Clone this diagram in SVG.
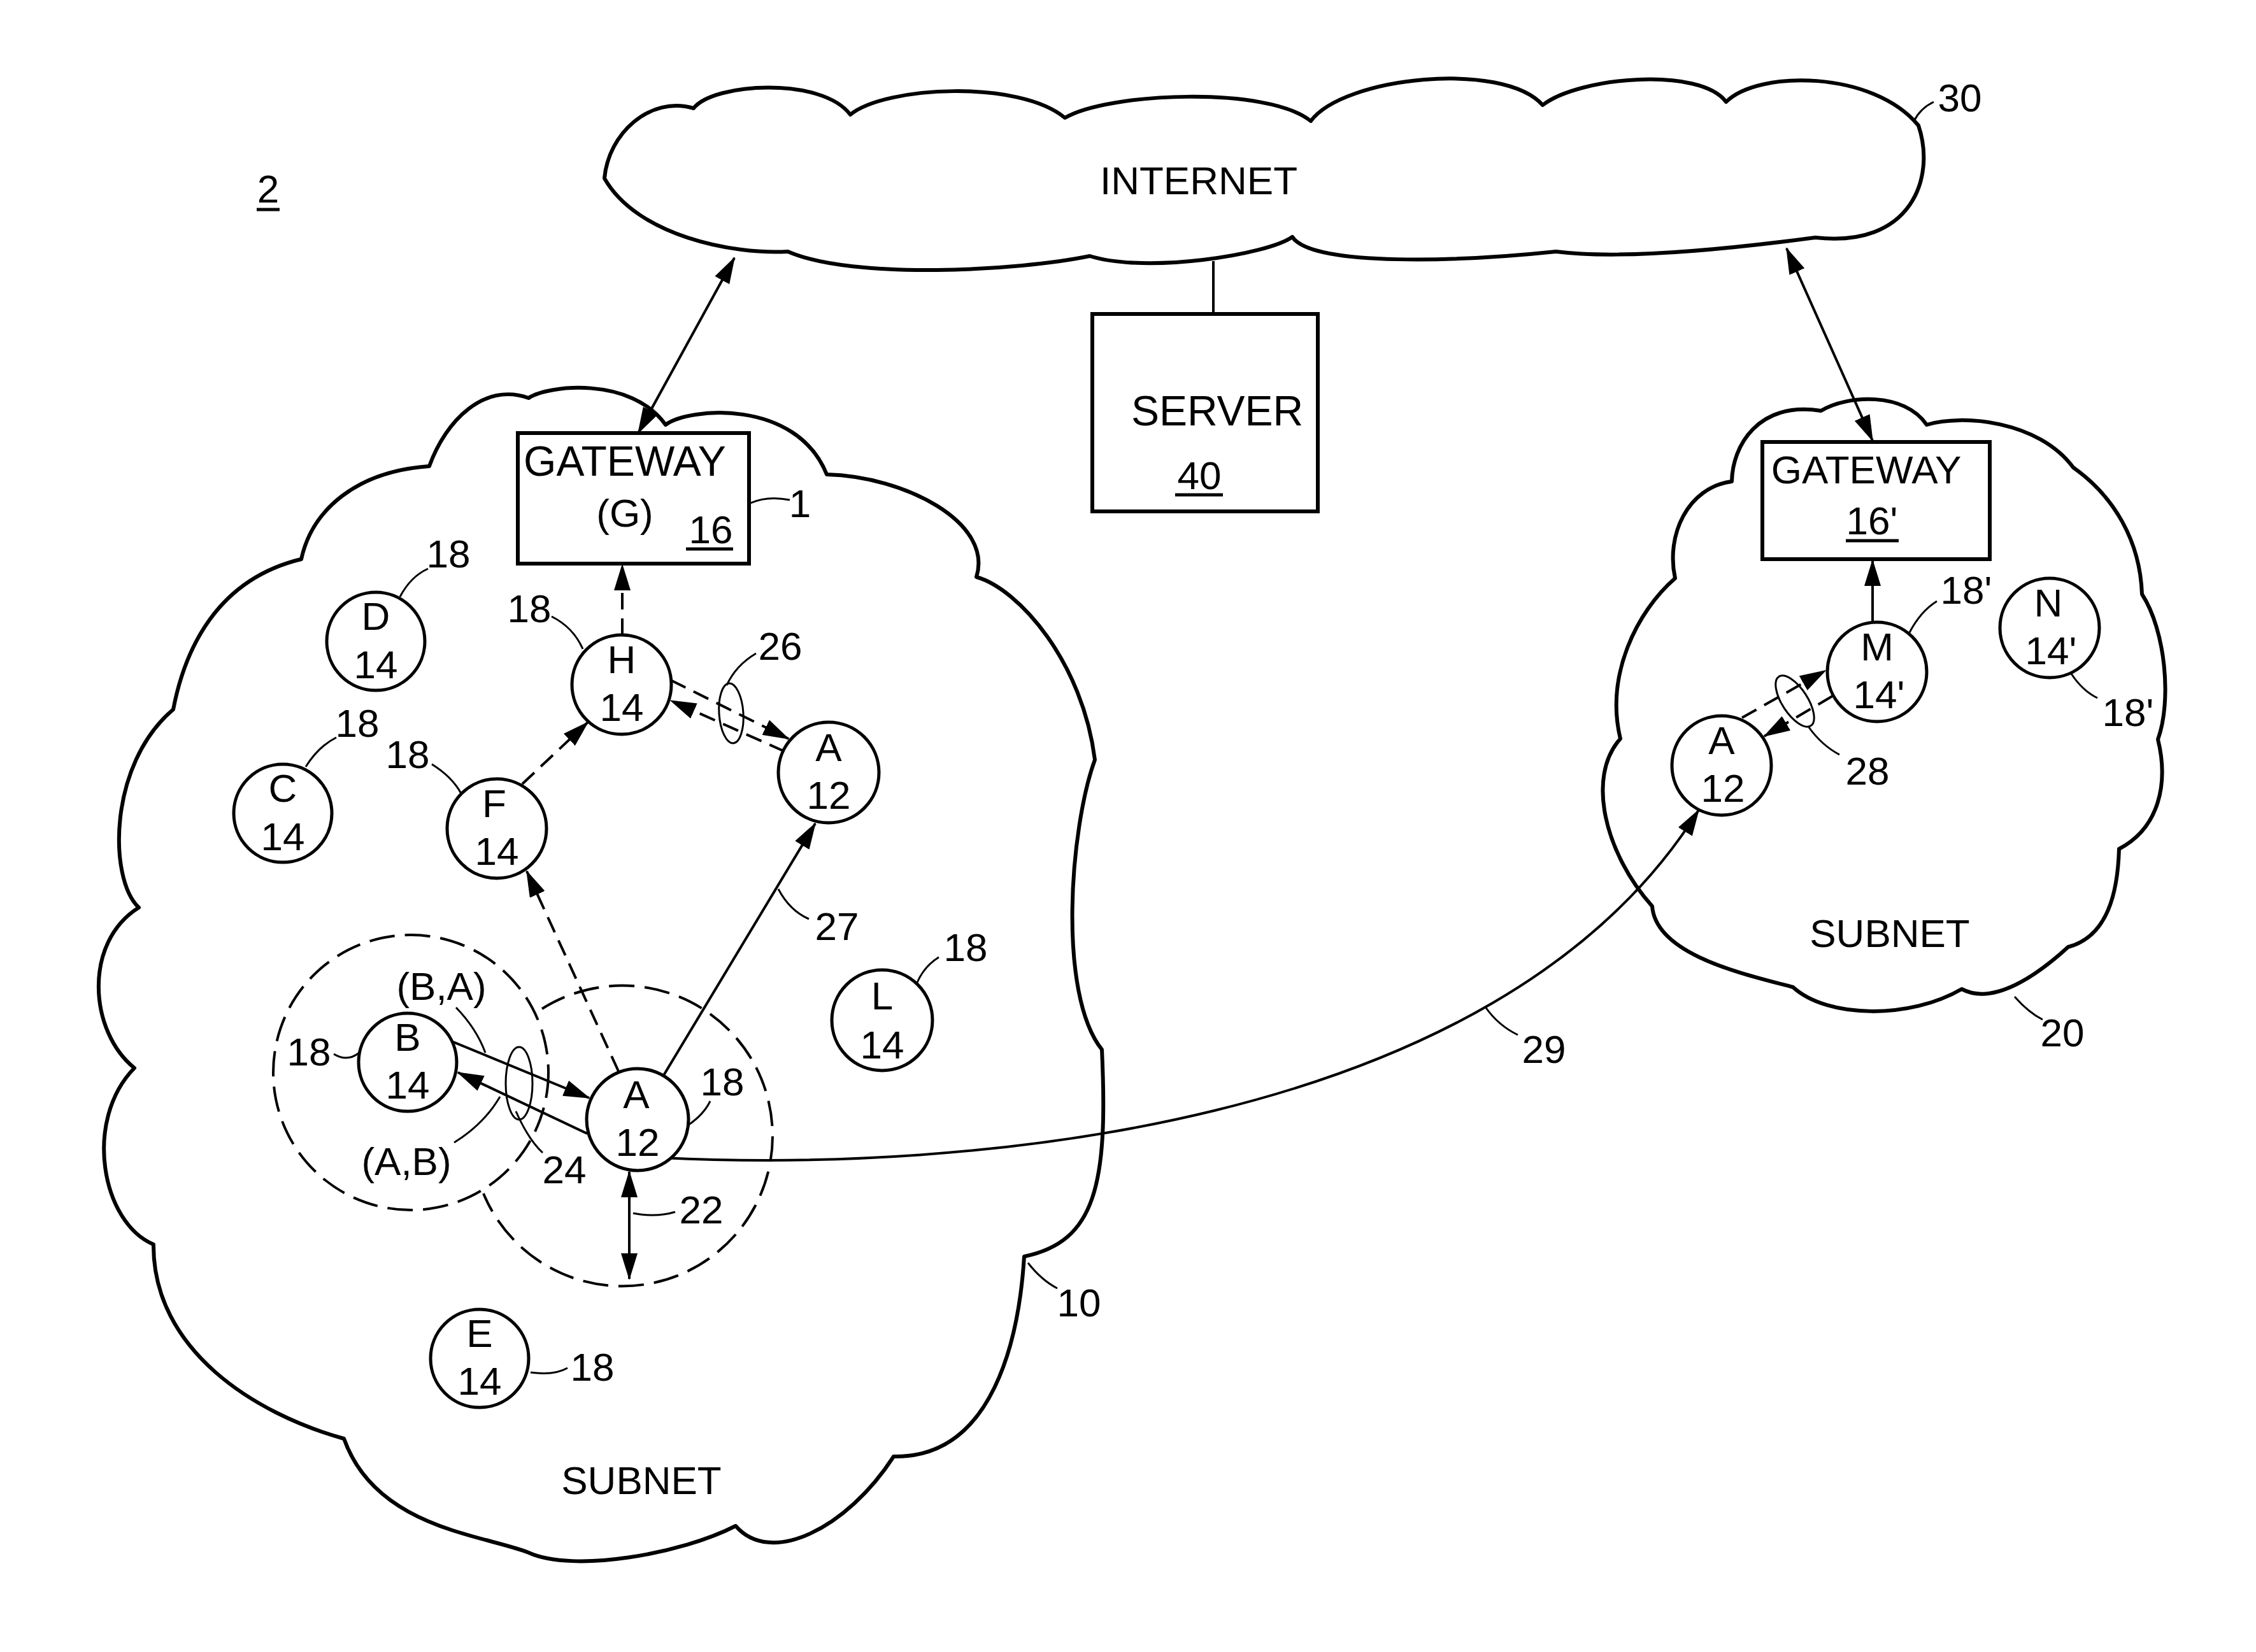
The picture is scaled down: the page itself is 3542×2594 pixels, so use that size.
<svg xmlns="http://www.w3.org/2000/svg" width="3542" height="2594" viewBox="0 0 3542 2594">
<style>
text{font-family:"Liberation Sans",Arial,sans-serif;font-size:62px;fill:#000;text-anchor:middle}
.big{font-size:66px}
.cloud{fill:#fff;stroke:#000;stroke-width:6;stroke-linejoin:round}
.box{fill:#fff;stroke:#000;stroke-width:6}
.node{fill:#fff;stroke:#000;stroke-width:5}
.ln{fill:none;stroke:#000;stroke-width:4}
.dash{fill:none;stroke:#000;stroke-width:4;stroke-dasharray:26 14}
.ring{fill:none;stroke:#000;stroke-width:4;stroke-dasharray:40 16}
.lead{fill:none;stroke:#000;stroke-width:3}
.ul{stroke:#000;stroke-width:5}
.ell{fill:none;stroke:#000;stroke-width:3}
</style>
<defs>
<marker id="ah" viewBox="0 0 42 26" refX="40" refY="13" markerWidth="42" markerHeight="26" markerUnits="userSpaceOnUse" orient="auto-start-reverse"><path d="M0,0 L42,13 L0,26 z" fill="#000"/></marker>
</defs>
<rect width="3542" height="2594" fill="#fff"/>

<g id="internet">
<path class="cloud" d="M 949,280 C 955,210 1020,150 1089,170 C 1120,130 1290,120 1335,180 C 1390,135 1600,125 1672,185 C 1740,145 1990,135 2058,190 C 2110,120 2360,95 2422,165 C 2480,120 2670,105 2710,160 C 2760,110 2940,110 3012,197 C 3040,280 3000,390 2850,373 C 2760,385 2560,410 2443,395 C 2300,410 2060,420 2029,372 C 1990,400 1800,430 1711,402 C 1600,425 1340,440 1237,395 C 1150,400 1000,370 949,280 Z"/>
<text x="1882" y="305">INTERNET</text>
<path class="lead" d="M 3005,190 Q 3015,170 3036,160"/>
<text x="3077" y="175">30</text>
</g>

<g id="subnet10">
<path class="cloud" d="M 830,625 C 860,605 990,590 1045,667 C 1080,640 1250,625 1298,745 C 1420,748 1560,820 1533,906 C 1600,925 1700,1040 1719,1193 C 1680,1300 1660,1560 1730,1648 C 1740,1860 1720,1950 1608,1973 C 1600,2100 1560,2290 1403,2287 C 1330,2400 1210,2460 1155,2396 C 1070,2440 900,2470 830,2438 C 760,2410 590,2400 540,2259 C 400,2220 240,2120 241,1954 C 160,1920 130,1760 211,1677 C 140,1620 130,1480 218,1425 C 170,1380 170,1200 272,1114 C 290,1020 340,910 473,878 C 490,800 560,740 674,732 C 700,660 760,600 830,625 Z"/>
<text x="1007" y="2346">SUBNET</text>
<path class="lead" d="M 1614,1983 Q 1635,2010 1660,2023"/>
<text x="1694" y="2067">10</text>
</g>

<g id="subnet20">
<path class="cloud" d="M 2630,908 C 2615,840 2650,765 2719,756 C 2720,700 2760,630 2859,645 C 2900,620 2990,615 3025,667 C 3080,650 3200,660 3255,734 C 3320,780 3360,850 3363,933 C 3400,990 3410,1100 3388,1161 C 3405,1230 3390,1300 3327,1333 C 3325,1400 3310,1470 3247,1487 C 3200,1530 3130,1580 3080,1553 C 3000,1600 2870,1600 2815,1550 C 2740,1530 2600,1500 2594,1423 C 2520,1340 2490,1220 2544,1160 C 2520,1060 2570,960 2630,908 Z"/>
<text x="2967" y="1487">SUBNET</text>
<path class="lead" d="M 3163,1565 Q 3185,1590 3207,1601"/>
<text x="3238" y="1643">20</text>
</g>

<g id="label2">
<text x="421" y="318">2</text>
<line class="ul" x1="403" y1="329" x2="439" y2="329"/>
</g>

<g id="gateway16">
<rect class="box" x="813" y="680" width="363" height="205"/>
<text class="big" x="981" y="747">GATEWAY</text>
<text x="981" y="827">(G)</text>
<text x="1116" y="853">16</text>
<line class="ul" x1="1077" y1="862" x2="1151" y2="862"/>
<path class="lead" d="M 1178,790 Q 1205,778 1240,785"/>
<text x="1256" y="812">1</text>
</g>

<g id="server40">
<rect class="box" x="1715" y="493" width="354" height="310"/>
<text class="big" x="1911" y="668">SERVER</text>
<text x="1883" y="768">40</text>
<line class="ul" x1="1845" y1="777" x2="1920" y2="777"/>
</g>

<g id="gateway16p">
<rect class="box" x="2767" y="694" width="357" height="184"/>
<text x="2930" y="759">GATEWAY</text>
<text x="2939" y="839">16'</text>
<line class="ul" x1="2898" y1="849" x2="2981" y2="849"/>
</g>

<g id="ranges">
<circle class="ring" cx="645" cy="1684" r="216"/>
<path class="ring" d="M 851,1584 A 236 236 0 1 1 759,1874"/>
</g>

<g id="connectors">
<line class="ln" x1="1153" y1="405" x2="1002" y2="680" marker-start="url(#ah)" marker-end="url(#ah)"/>
<line class="ln" x1="2805" y1="390" x2="2940" y2="692" marker-start="url(#ah)" marker-end="url(#ah)"/>
<line class="ln" x1="1905" y1="410" x2="1905" y2="493"/>
<line class="dash" x1="977" y1="997" x2="977" y2="887" marker-end="url(#ah)"/>
<line class="dash" x1="820" y1="1231" x2="923" y2="1134" marker-end="url(#ah)"/>
<line class="dash" x1="971" y1="1682" x2="827" y2="1368" marker-end="url(#ah)"/>
<line class="ln" x1="1041" y1="1690" x2="1280" y2="1293" marker-end="url(#ah)"/>
<line class="dash" x1="1053" y1="1068" x2="1238" y2="1160" marker-end="url(#ah)"/>
<line class="dash" x1="1232" y1="1180" x2="1053" y2="1100" marker-end="url(#ah)"/>
<line class="ln" x1="704" y1="1633" x2="925" y2="1724" marker-end="url(#ah)"/>
<line class="ln" x1="922" y1="1780" x2="719" y2="1684" marker-end="url(#ah)"/>
<line class="ln" x1="988" y1="1840" x2="988" y2="2008" marker-start="url(#ah)" marker-end="url(#ah)"/>
<path class="ln" d="M 1040,1818 C 1500,1840 2350,1780 2667,1272" marker-end="url(#ah)"/>
<line class="ln" x1="2940" y1="977" x2="2940" y2="880" marker-end="url(#ah)"/>
<line class="dash" x1="2735" y1="1127" x2="2866" y2="1053" marker-end="url(#ah)"/>
<line class="dash" x1="2877" y1="1093" x2="2770" y2="1156" marker-end="url(#ah)"/>
</g>

<g id="link-labels">
<ellipse class="ell" cx="1148" cy="1120" rx="19" ry="47" transform="rotate(-4 1148 1120)"/>
<path class="lead" d="M 1141,1076 Q 1155,1045 1187,1026"/>
<text x="1225" y="1036">26</text>
<path class="lead" d="M 1222,1396 Q 1240,1430 1270,1443"/>
<text x="1314" y="1476">27</text>
<ellipse class="ell" cx="815" cy="1701" rx="21" ry="57"/>
<path class="lead" d="M 810,1745 Q 830,1790 852,1810"/>
<text x="886" y="1858">24</text>
<path class="lead" d="M 716,1582 Q 748,1615 762,1653"/>
<text x="693" y="1570">(B,A)</text>
<path class="lead" d="M 713,1794 Q 760,1765 785,1722"/>
<text x="638" y="1845">(A,B)</text>
<path class="lead" d="M 994,1905 Q 1030,1912 1060,1903"/>
<text x="1101" y="1921">22</text>
<path class="lead" d="M 2332,1581 Q 2352,1610 2383,1625"/>
<text x="2424" y="1669">29</text>
<ellipse class="ell" cx="2818" cy="1101" rx="20" ry="46" transform="rotate(-33 2818 1101)"/>
<path class="lead" d="M 2840,1142 Q 2860,1170 2888,1185"/>
<text x="2932" y="1232">28</text>
</g>

<g id="node-D"><circle class="node" cx="590" cy="1007" r="77"/><text x="590" y="989">D</text><text x="590" y="1065">14</text><path class="lead" d="M 628,937 Q 645,905 672,893"/><text x="704" y="891">18</text></g>
<g id="node-C"><circle class="node" cx="444" cy="1277" r="77"/><text x="444" y="1259">C</text><text x="444" y="1335">14</text><path class="lead" d="M 480,1204 Q 500,1172 528,1158"/><text x="561" y="1157">18</text></g>
<g id="node-H"><circle class="node" cx="976" cy="1075" r="78"/><text x="976" y="1057">H</text><text x="976" y="1132">14</text><path class="lead" d="M 866,968 Q 900,985 915,1019"/><text x="831" y="977">18</text></g>
<g id="node-F"><circle class="node" cx="780" cy="1301" r="78"/><text x="776" y="1283">F</text><text x="780" y="1358">14</text><path class="lead" d="M 678,1200 Q 710,1220 724,1246"/><text x="640" y="1206">18</text></g>
<g id="node-A-upper"><circle class="node" cx="1301" cy="1213" r="79"/><text x="1301" y="1195">A</text><text x="1301" y="1270">12</text></g>
<g id="node-L"><circle class="node" cx="1385" cy="1602" r="79"/><text x="1385" y="1585">L</text><text x="1385" y="1662">14</text><path class="lead" d="M 1439,1545 Q 1450,1518 1474,1503"/><text x="1516" y="1509">18</text></g>
<g id="node-B"><circle class="node" cx="640" cy="1668" r="77"/><text x="640" y="1650">B</text><text x="640" y="1725">14</text><path class="lead" d="M 524,1655 Q 545,1668 564,1653"/><text x="485" y="1673">18</text></g>
<g id="node-A"><circle class="node" cx="1001" cy="1758" r="80"/><text x="999" y="1740">A</text><text x="1001" y="1815">12</text><path class="lead" d="M 1080,1767 Q 1105,1750 1115,1729"/><text x="1134" y="1720">18</text></g>
<g id="node-E"><circle class="node" cx="753" cy="2133" r="77"/><text x="753" y="2115">E</text><text x="753" y="2190">14</text><path class="lead" d="M 833,2155 Q 870,2160 891,2148"/><text x="930" y="2168">18</text></g>
<g id="node-M"><circle class="node" cx="2947" cy="1055" r="78"/><text x="2947" y="1037">M</text><text x="2950" y="1112">14'</text><path class="lead" d="M 2997,995 Q 3015,960 3041,944"/><text x="3087" y="948">18'</text></g>
<g id="node-N"><circle class="node" cx="3218" cy="986" r="78"/><text x="3216" y="968">N</text><text x="3220" y="1043">14'</text><path class="lead" d="M 3252,1058 Q 3270,1085 3293,1096"/><text x="3341" y="1140">18'</text></g>
<g id="node-A-right"><circle class="node" cx="2703" cy="1202" r="78"/><text x="2703" y="1184">A</text><text x="2705" y="1259">12</text></g>
</svg>
